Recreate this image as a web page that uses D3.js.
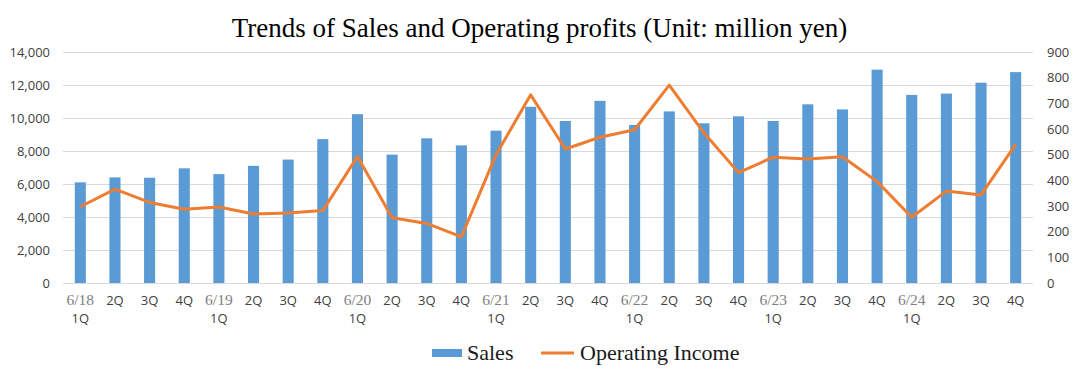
<!DOCTYPE html>
<html>
<head>
<meta charset="utf-8">
<script src="https://cdn.jsdelivr.net/npm/d3@7"></script>
<style>
  body { margin: 0; background: #fff; }
  .title { font-family: 'Liberation Serif', serif; font-size: 27px; fill: #000; }
  .grid line { stroke: #d9d9d9; stroke-width: 1px; }
  .grid path { display: none; }
  .axis path, .axis line { display: none; }
  .axis text { font-family: 'Open Sans', 'Noto Sans', sans-serif; font-size: 13px; fill: #404040; }
  .xlab { font-family: 'Open Sans', 'Noto Sans', sans-serif; font-size: 13px; fill: #404040; }
  .xlab .date { font-family: 'Liberation Serif', serif; font-size: 15.5px; fill: #808080; }
  .bar { fill: #5b9bd5; }
  .line { fill: none; stroke: #ed7d31; stroke-width: 3px; stroke-linejoin: round; }
  .legend text { font-family: 'Liberation Serif', serif; font-size: 22px; fill: #1a1a1a; }
</style>
</head>
<body>
<div id="chart"></div>
<script>
const yearLabels = ["6/18", "", "", "", "6/19", "", "", "", "6/20", "", "", "", "6/21", "", "", "",
  "6/22", "", "", "", "6/23", "", "", "", "6/24", "", "", ""];
const quarterLabels = ["1Q", "2Q", "3Q", "4Q", "1Q", "2Q", "3Q", "4Q", "1Q", "2Q", "3Q", "4Q", "1Q", "2Q",
  "3Q", "4Q", "1Q", "2Q", "3Q", "4Q", "1Q", "2Q", "3Q", "4Q", "1Q", "2Q", "3Q", "4Q"];
const sales = [6100, 6400, 6380, 6950, 6600, 7100, 7480, 8720, 10230, 7780, 8770, 8340, 9230, 10680,
  9820, 11040, 9580, 10400, 9680, 10100, 9820, 10830, 10520, 12930, 11400, 11480, 12140, 12780];
const operatingIncome = [297, 366, 314, 287, 296, 269, 273, 282, 493, 254, 232, 180, 500, 733,
  522, 568, 597, 771, 585, 430, 490, 483, 492, 395, 256, 358, 343, 540];
const leftTicks = [0, 2000, 4000, 6000, 8000, 10000, 12000, 14000];
const rightTicks = [0, 100, 200, 300, 400, 500, 600, 700, 800, 900];

const width = 1079;
const height = 371;
const margin = { top: 52, right: 46, bottom: 88, left: 63 };
const plotW = width - margin.left - margin.right;
const plotH = height - margin.top - margin.bottom;

const svg = d3.select("#chart")
  .append("svg")
  .attr("width", width)
  .attr("height", height);

svg.append("text")
  .attr("class", "title")
  .attr("x", width / 2)
  .attr("y", 37)
  .attr("text-anchor", "middle")
  .text("Trends of Sales and Operating profits (Unit: million yen)");

const g = svg.append("g")
  .attr("transform", `translate(${margin.left},${margin.top})`);

const idx = d3.range(quarterLabels.length);

const x = d3.scaleBand()
  .domain(idx)
  .range([0, plotW])
  .paddingInner(0.68)
  .paddingOuter(0.34);

const yLeft = d3.scaleLinear().domain([0, 14000]).range([plotH, 0]);
const yRight = d3.scaleLinear().domain([0, 900]).range([plotH, 0]);

// gridlines
g.append("g")
  .attr("class", "grid")
  .call(d3.axisLeft(yLeft).tickValues(leftTicks).tickSize(-plotW).tickFormat(""));

// bars
g.selectAll(".bar")
  .data(sales)
  .join("rect")
  .attr("class", "bar")
  .attr("x", (d, i) => x(i))
  .attr("y", d => yLeft(d))
  .attr("width", x.bandwidth())
  .attr("height", d => plotH - yLeft(d));

// operating income line
g.append("path")
  .datum(operatingIncome)
  .attr("class", "line")
  .attr("d", d3.line()
    .x((d, i) => x(i) + x.bandwidth() / 2)
    .y(d => yRight(d)));

// left axis
g.append("g")
  .attr("class", "axis")
  .call(d3.axisLeft(yLeft).tickValues(leftTicks).tickSize(0).tickPadding(13).tickFormat(d3.format(",")));

// right axis
g.append("g")
  .attr("class", "axis")
  .attr("transform", `translate(${plotW},0)`)
  .call(d3.axisRight(yRight).tickValues(rightTicks).tickSize(0).tickPadding(14));

// x labels, two lines
const xl = g.append("g")
  .attr("class", "xlab")
  .attr("transform", `translate(0,${plotH})`);

idx.forEach(i => {
  const cx = x(i) + x.bandwidth() / 2;
  const t = xl.append("text").attr("text-anchor", "middle");
  if (yearLabels[i]) {
    t.append("tspan").attr("class", "date").attr("x", cx).attr("y", 22).text(yearLabels[i]);
    t.append("tspan").attr("x", cx).attr("y", 40).text(quarterLabels[i]);
  } else {
    t.append("tspan").attr("x", cx).attr("y", 22).text(quarterLabels[i]);
  }
});

// legend
const legend = svg.append("g").attr("class", "legend");
legend.append("rect")
  .attr("class", "bar")
  .attr("x", 432).attr("y", 349)
  .attr("width", 30).attr("height", 8);
legend.append("text").attr("x", 467).attr("y", 360).text("Sales");
legend.append("line")
  .attr("x1", 541).attr("x2", 574)
  .attr("y1", 353).attr("y2", 353)
  .attr("stroke", "#ed7d31").attr("stroke-width", 3);
legend.append("text").attr("x", 580).attr("y", 360).text("Operating Income");
</script>
</body>
</html>
